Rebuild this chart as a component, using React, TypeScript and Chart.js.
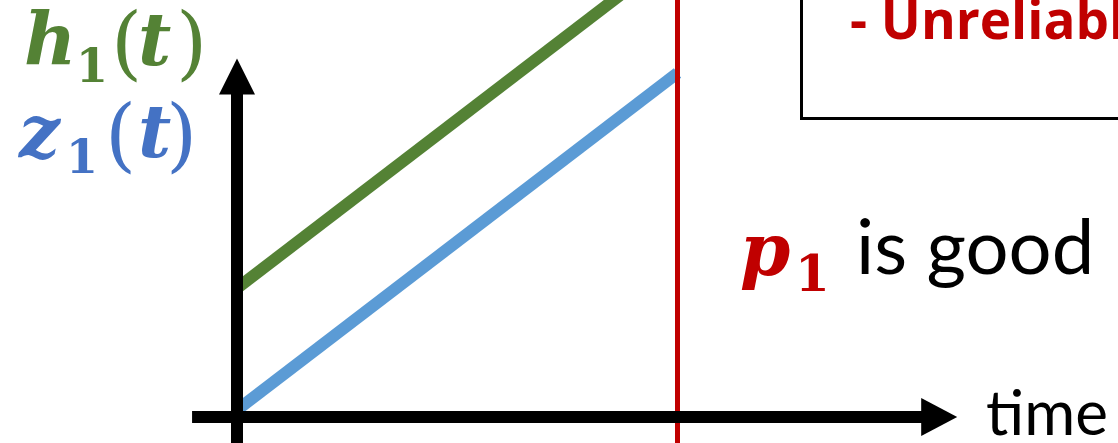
import { useEffect, useRef } from "react";
import { Chart, registerables } from "chart.js";

Chart.register(...registerables);

const W = 1118;
const H = 443;

// data (time units, value units)
const times = [0, 10];
const hValues = [3.09, 11.17];
const zValues = [0.17, 8.25];
const markerTime = 10;
const markerRange = [-1, 11];
const xAxisRange = [-1.02, 16.35];
const yAxisRange = [-1, 8.6];

const GREEN = "#548235";
const BLUE_LINE = "#5B9BD5";
const BLUE_TEXT = "#4472C4";
const RED = "#C00000";

const overlay = {
  id: "overlay",
  afterDatasetsDraw(chart: any) {
    const ctx = chart.ctx as CanvasRenderingContext2D;
    const xs = chart.scales.x;
    const ys = chart.scales.y;
    const ox = xs.getPixelForValue(0);
    const oy = ys.getPixelForValue(0);
    ctx.save();
    ctx.fillStyle = "#000";
    ctx.strokeStyle = "#000";
    ctx.lineWidth = 12;
    ctx.lineCap = "butt";
    // y axis
    const yTip = ys.getPixelForValue(yAxisRange[1]);
    const yBottom = ys.getPixelForValue(yAxisRange[0]);
    ctx.beginPath();
    ctx.moveTo(ox, yBottom);
    ctx.lineTo(ox, yTip + 34);
    ctx.stroke();
    ctx.beginPath();
    ctx.moveTo(ox, yTip);
    ctx.lineTo(ox - 18, yTip + 36);
    ctx.lineTo(ox + 18, yTip + 36);
    ctx.closePath();
    ctx.fill();
    // x axis
    const xTip = xs.getPixelForValue(xAxisRange[1]);
    const xLeft = xs.getPixelForValue(xAxisRange[0]);
    ctx.beginPath();
    ctx.moveTo(xLeft, oy);
    ctx.lineTo(xTip - 34, oy);
    ctx.stroke();
    ctx.beginPath();
    ctx.moveTo(xTip, oy);
    ctx.lineTo(xTip - 36, oy - 19);
    ctx.lineTo(xTip - 36, oy + 19);
    ctx.closePath();
    ctx.fill();
    ctx.restore();
  },
  afterDraw(chart: any) {
    const ctx = chart.ctx as CanvasRenderingContext2D;
    ctx.save();
    ctx.textBaseline = "alphabetic";
    ctx.textAlign = "left";
    // box
    ctx.strokeStyle = "#000";
    ctx.lineWidth = 3;
    ctx.strokeRect(801.5, -10, 400, 128.5);
    // box text
    ctx.fillStyle = RED;
    ctx.font = "bold 53px 'Open Sans'";
    ctx.fillText("- Unreliable", 850, 39);

    const serifBI = (s: number) => `bold italic ${s}px 'DejaVu Serif'`;
    const serifB = (s: number) => `bold ${s}px 'DejaVu Serif'`;
    const serifN = (s: number) => `${s}px 'DejaVu Serif'`;

    // h1(t)
    ctx.fillStyle = GREEN;
    ctx.font = serifBI(72);
    ctx.fillText("h", 24, 65);
    ctx.font = serifB(46);
    ctx.fillText("1", 76, 82);
    ctx.font = serifN(80);
    ctx.fillText("(", 111, 70);
    ctx.font = serifBI(72);
    ctx.fillText("t", 138, 65);
    ctx.font = serifN(80);
    ctx.fillText(")", 176, 70);

    // z1(t)
    ctx.fillStyle = BLUE_TEXT;
    ctx.font = serifBI(72);
    ctx.fillText("z", 19, 157);
    ctx.font = serifB(46);
    ctx.fillText("1", 66, 173);
    ctx.font = serifN(80);
    ctx.fillText("(", 105, 162);
    ctx.font = serifBI(72);
    ctx.fillText("t", 138, 157);
    ctx.font = serifN(80);
    ctx.fillText(")", 166, 162);

    // p1 is good
    ctx.fillStyle = RED;
    ctx.font = serifBI(72);
    ctx.fillText("p", 740, 275);
    ctx.font = serifB(50);
    ctx.fillText("1", 795, 291);
    ctx.fillStyle = "#000";
    ctx.font = "76px Lato";
    ctx.fillText("is good", 856, 274);

    // time
    ctx.font = "62px Lato";
    ctx.fillText("time", 986, 435);
    ctx.restore();
  },
};

export default function App() {
  const ref = useRef<HTMLCanvasElement>(null);
  useEffect(() => {
    const ctx = ref.current!.getContext("2d")!;
    const chart = new Chart(ctx, {
      type: "line",
      data: {
        datasets: [
          {
            label: "p1",
            data: markerRange.map((y) => ({ x: markerTime, y })),
            borderColor: RED,
            borderWidth: 5,
            pointRadius: 0,
            clip: false as any,
            order: 0,
          },
          {
            label: "z1(t)",
            data: times.map((t, i) => ({ x: t, y: zValues[i] })),
            borderColor: BLUE_LINE,
            borderWidth: 12,
            pointRadius: 0,
            borderCapStyle: "butt",
            clip: false as any,
            order: 1,
          },
          {
            label: "h1(t)",
            data: times.map((t, i) => ({ x: t, y: hValues[i] })),
            borderColor: GREEN,
            borderWidth: 12,
            pointRadius: 0,
            borderCapStyle: "butt",
            clip: false as any,
            order: 2,
          },
        ],
      },
      options: {
        responsive: false,
        animation: false,
        events: [],
        layout: { padding: { left: 237, right: 0, top: 0, bottom: 26 } },
        scales: {
          x: { type: "linear", min: 0, max: 20, display: false },
          y: { type: "linear", min: 0, max: 10, display: false },
        },
        plugins: { legend: { display: false }, tooltip: { enabled: false } },
      },
      plugins: [overlay],
    });
    return () => chart.destroy();
  }, []);
  return (
    <div style={{ position: "fixed", left: 0, top: 0, width: W, height: H, background: "#fff" }}>
      <canvas ref={ref} width={W} height={H} style={{ width: W, height: H, display: "block" }} />
    </div>
  );
}
